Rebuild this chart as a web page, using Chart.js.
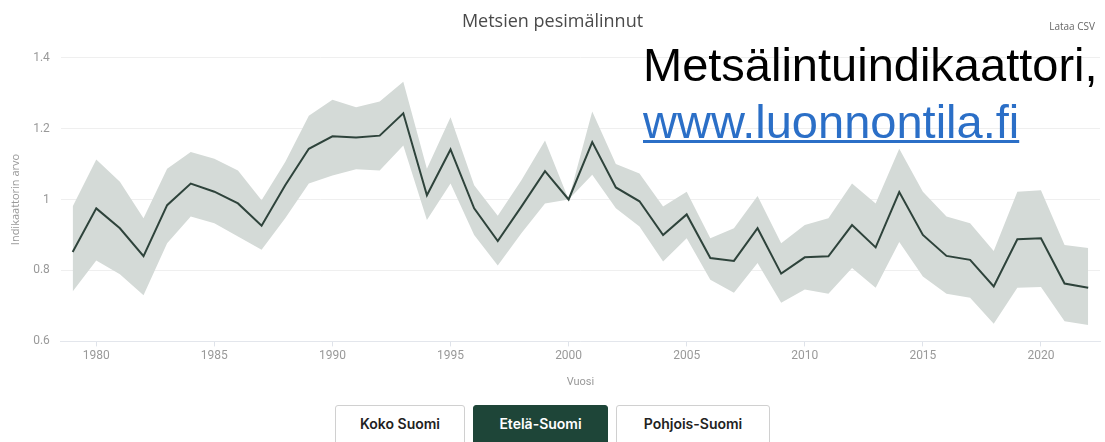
<!DOCTYPE html>
<html>
<head>
<meta charset="utf-8">
<script src="https://cdn.jsdelivr.net/npm/chart.js@4/dist/chart.umd.min.js"></script>
<style>
    body { margin: 0; background: #fff; width: 1105px; height: 442px; overflow: hidden; position: relative; font-family: "Open Sans", sans-serif; }
    #wrap { position: absolute; left: 0; top: 0; width: 1105px; height: 393px; }
    #csv { position: absolute; right: 10px; top: 19px; font-size: 10px; color: #666; font-family: "Liberation Sans Narrow", "Open Sans", sans-serif; }
    #note { position: absolute; left: 643px; top: 36px; font-family: "Liberation Sans", Arial, sans-serif; font-size: 47px; line-height: 57px; color: #000; }
    #note a { color: #2b6fc7; text-decoration: underline; text-decoration-thickness: 3px; }
    #buttons { position: absolute; top: 405px; left: 0; width: 1105px; text-align: center; font-size: 0; }
    #buttons span { display: inline-block; margin: 0 4px; padding: 9px 0 0; height: 40px; box-sizing: border-box; border: 1px solid #d0d0d0; border-radius: 3px; font-family: Inter, sans-serif; font-weight: 600; font-size: 14px; color: #222; text-align: center; }
    #buttons span.on { background: #1e4538; border-color: #1e4538; color: #fff; }
</style>
</head>
<body>
<div id="wrap"><canvas id="chart"></canvas></div>
<div id="csv">Lataa CSV</div>
<div id="note">Metsälintuindikaattori,<br><a>www.luonnontila.fi</a></div>
<div id="buttons"><span style="width:130px">Koko Suomi</span><span class="on" style="width:135px">Etelä-Suomi</span><span style="width:154px">Pohjois-Suomi</span></div>
<script>
const years = [1979, 1980, 1981, 1982, 1983, 1984, 1985, 1986, 1987, 1988,
    1989, 1990, 1991, 1992, 1993, 1994, 1995, 1996, 1997, 1998,
    1999, 2000, 2001, 2002, 2003, 2004, 2005, 2006, 2007, 2008,
    2009, 2010, 2011, 2012, 2013, 2014, 2015, 2016, 2017, 2018,
    2019, 2020, 2021, 2022];

const indexValues = [0.852, 0.975, 0.919, 0.84, 0.984, 1.045, 1.022, 0.989, 0.926, 1.04,
    1.143, 1.178, 1.175, 1.18, 1.243, 1.012, 1.141, 0.975, 0.883, 0.98,
    1.08, 1.0, 1.162, 1.034, 0.995, 0.9, 0.958, 0.835, 0.827, 0.919,
    0.791, 0.837, 0.84, 0.928, 0.865, 1.021, 0.9, 0.841, 0.83, 0.755,
    0.888, 0.891, 0.763, 0.751];

const upperValues = [0.98, 1.113, 1.05, 0.947, 1.087, 1.134, 1.115, 1.082, 0.998, 1.106,
    1.236, 1.281, 1.26, 1.276, 1.332, 1.087, 1.232, 1.04, 0.954, 1.054,
    1.166, 1.0, 1.248, 1.1, 1.073, 0.98, 1.022, 0.891, 0.919, 1.01,
    0.877, 0.928, 0.947, 1.045, 0.989, 1.143, 1.022, 0.952, 0.933, 0.855,
    1.022, 1.026, 0.872, 0.863];

const lowerValues = [0.741, 0.828, 0.789, 0.73, 0.877, 0.952, 0.933, 0.896, 0.858, 0.947,
    1.045, 1.068, 1.085, 1.082, 1.152, 0.942, 1.045, 0.9, 0.814, 0.905,
    0.989, 1.0, 1.07, 0.975, 0.924, 0.825, 0.891, 0.774, 0.737, 0.821,
    0.709, 0.746, 0.734, 0.807, 0.751, 0.88, 0.783, 0.734, 0.723, 0.65,
    0.751, 0.753, 0.657, 0.646];

const xTicks = [1980, 1985, 1990, 1995, 2000, 2005, 2010, 2015, 2020];
const yTicks = [0.6, 0.8, 1, 1.2, 1.4];

const pts = (vals) => years.map((y, i) => ({ x: y, y: vals[i] }));

const tickFont = { family: "'Liberation Sans Narrow', 'Roboto', sans-serif", size: 12 };

new Chart(document.getElementById('chart'), {
    type: 'line',
    data: {
        datasets: [
            {
                label: 'Indikaattori',
                data: pts(indexValues),
                borderColor: '#2e433b',
                borderWidth: 2,
                pointRadius: 0,
                fill: false,
                tension: 0,
                order: 0
            },
            {
                label: 'Yläraja',
                data: pts(upperValues),
                borderWidth: 0,
                borderColor: 'rgba(0,0,0,0)',
                pointRadius: 0,
                backgroundColor: '#d4dad7',
                fill: '+1',
                order: 1
            },
            {
                label: 'Alaraja',
                data: pts(lowerValues),
                borderWidth: 0,
                borderColor: 'rgba(0,0,0,0)',
                pointRadius: 0,
                fill: false,
                order: 2
            }
        ]
    },
    options: {
        responsive: true,
        maintainAspectRatio: false,
        animation: false,
        layout: { padding: { left: 5, right: 5, top: 0, bottom: 0 } },
        plugins: {
            legend: { display: false },
            tooltip: { enabled: false },
            title: {
                display: true,
                text: 'Metsien pesimälinnut',
                color: '#4a4a4a',
                font: { family: "'Open Sans', sans-serif", size: 18, weight: 'normal' },
                padding: { top: 11, bottom: 25 }
            }
        },
        scales: {
            x: {
                type: 'linear',
                min: 1978.5,
                max: 2022.5,
                afterBuildTicks: (scale) => { scale.ticks = xTicks.map(v => ({ value: v })); },
                ticks: {
                    color: '#999',
                    font: tickFont,
                    padding: 2,
                    callback: (v) => String(v)
                },
                grid: {
                    drawOnChartArea: false,
                    drawTicks: true,
                    tickLength: 5,
                    color: '#dfe3ea'
                },
                border: { color: '#e3e6ec', width: 1 },
                title: {
                    display: true,
                    text: 'Vuosi',
                    color: '#999',
                    font: { family: "'Liberation Sans Narrow', 'Roboto', sans-serif", size: 11 },
                    padding: { top: 11 }
                }
            },
            y: {
                min: 0.6,
                max: 1.4,
                afterBuildTicks: (scale) => { scale.ticks = yTicks.map(v => ({ value: v })); },
                ticks: {
                    color: '#999',
                    font: tickFont,
                    padding: 11,
                    callback: (v) => String(v)
                },
                grid: { color: '#efefef', drawTicks: false },
                border: { display: false },
                title: {
                    display: true,
                    text: 'Indikaattorin arvo',
                    color: '#999',
                    font: { family: "'Open Sans', sans-serif", size: 11 },
                    padding: { top: 4, bottom: 0 }
                }
            }
        }
    }
});
</script>
</body>
</html>
